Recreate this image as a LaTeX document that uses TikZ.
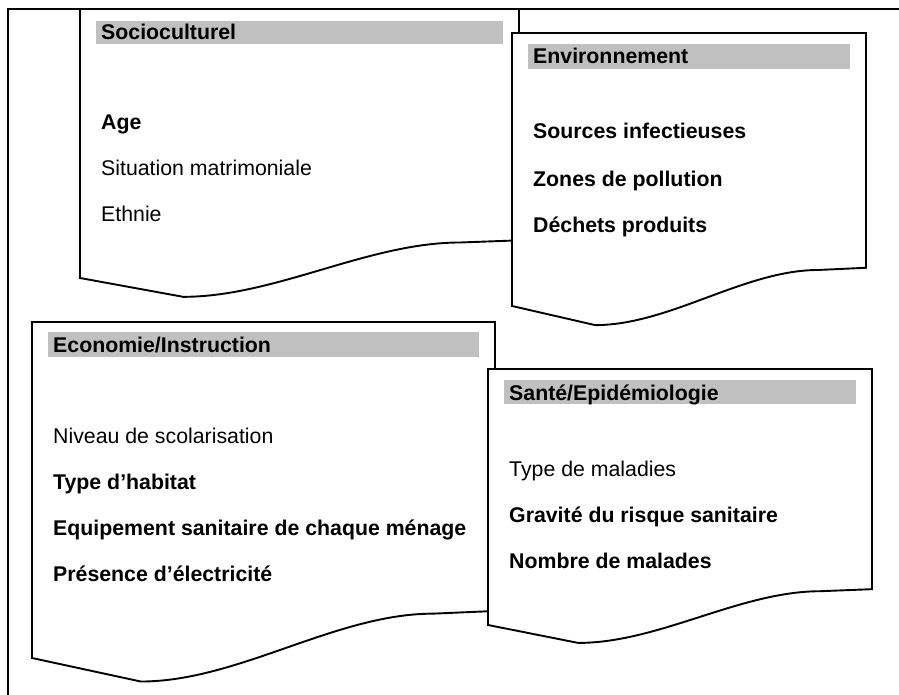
\documentclass[tikz,border=0pt]{standalone}
\usepackage{fontspec}
\setmainfont{Liberation Sans}
\begin{document}
% one sheet with a wavy lower edge: #1 left, #2 right, #3 top, #4 lower-left corner
\newcommand\docsheet[4]{%
  \pgfmathsetmacro\dw{#2-#1}%
  \pgfmathsetmacro\dh{#4-#3}%
  \pgfmathsetmacro\tx{#1+0.235*\dw}%
  \pgfmathsetmacro\ty{#4+0.07*\dh}%
  \pgfmathsetmacro\fx{#1+0.866*\dw}%
  \pgfmathsetmacro\ry{#4-0.14*\dh}%
  \pgfmathsetmacro\fy{\ry+0.008*\dh}%
  \pgfmathsetmacro\cxa{\tx+(\fx-\tx)/3}%
  \pgfmathsetmacro\cxb{\fx-(\fx-\tx)/3}%
  \filldraw[sheet] (#1,#3) -- (#2,#3) -- (#2,\ry) -- (\fx,\fy)
    .. controls (\cxb,\fy) and (\cxa,\ty) .. (\tx,\ty) -- (#1,#4) -- cycle;
}
\begin{tikzpicture}[x=1pt,y=-1pt,
  sheet/.style={draw=black,fill=white,line width=1.9pt,line join=miter},
  frame/.style={draw=black,line width=1.9pt},
  bar/.style={fill=barcol},
  item/.style={anchor=base west,inner sep=0pt,font=\fontsize{21.3}{25}\selectfont},
  bitem/.style={item,font=\fontsize{21.3}{25}\selectfont\bfseries}]
\definecolor{barcol}{HTML}{C0C0C0}
\useasboundingbox (0,0) rectangle (899,695);

% surrounding frame, open to the lower right
\draw[frame] (8,705) -- (8,9) -- (910,9);

% Socioculturel
\docsheet{80}{519}{9}{278}
\fill[bar] (96,21) rectangle (503,44);
\node[bitem] (soc) at (101,40) {Socioculturel};
\node[bitem] (age) at (101,130) {Age};
\node[item] (sit) at (101,176) {Situation matrimoniale};
\node[item] (eth) at (101,222) {Ethnie};

% Environnement
\docsheet{512}{866}{33}{306}
\fill[bar] (528,44) rectangle (850,69);
\node[bitem] (env) at (533,64) {Environnement};
\node[bitem] (src) at (533,139) {Sources infectieuses};
\node[bitem] (zon) at (533,186) {Zones de pollution};
\node[bitem] (dec) at (533,232) {Déchets produits};

% Economie/Instruction
\docsheet{32}{495}{322}{658}
\fill[bar] (48,332) rectangle (479,357);
\node[bitem] (eco) at (53,352) {Economie/Instruction};
\node[item] (niv) at (53,443) {Niveau de scolarisation};
\node[bitem] (hab) at (53,489) {Type d’habitat};
\node[bitem] (equ) at (53,535) {Equipement sanitaire de chaque ménage};
\node[bitem] (ele) at (53,581) {Présence d’électricité};

% Santé/Epidémiologie
\docsheet{488}{872}{369}{625}
\fill[bar] (504,380) rectangle (856,404);
\node[bitem] (san) at (509,400) {Santé/Epidémiologie};
\node[item] (mal) at (509,476) {Type de maladies};
\node[bitem] (gra) at (509,522) {Gravité du risque sanitaire};
\node[bitem] (nbr) at (509,568) {Nombre de malades};
\end{tikzpicture}
\end{document}
